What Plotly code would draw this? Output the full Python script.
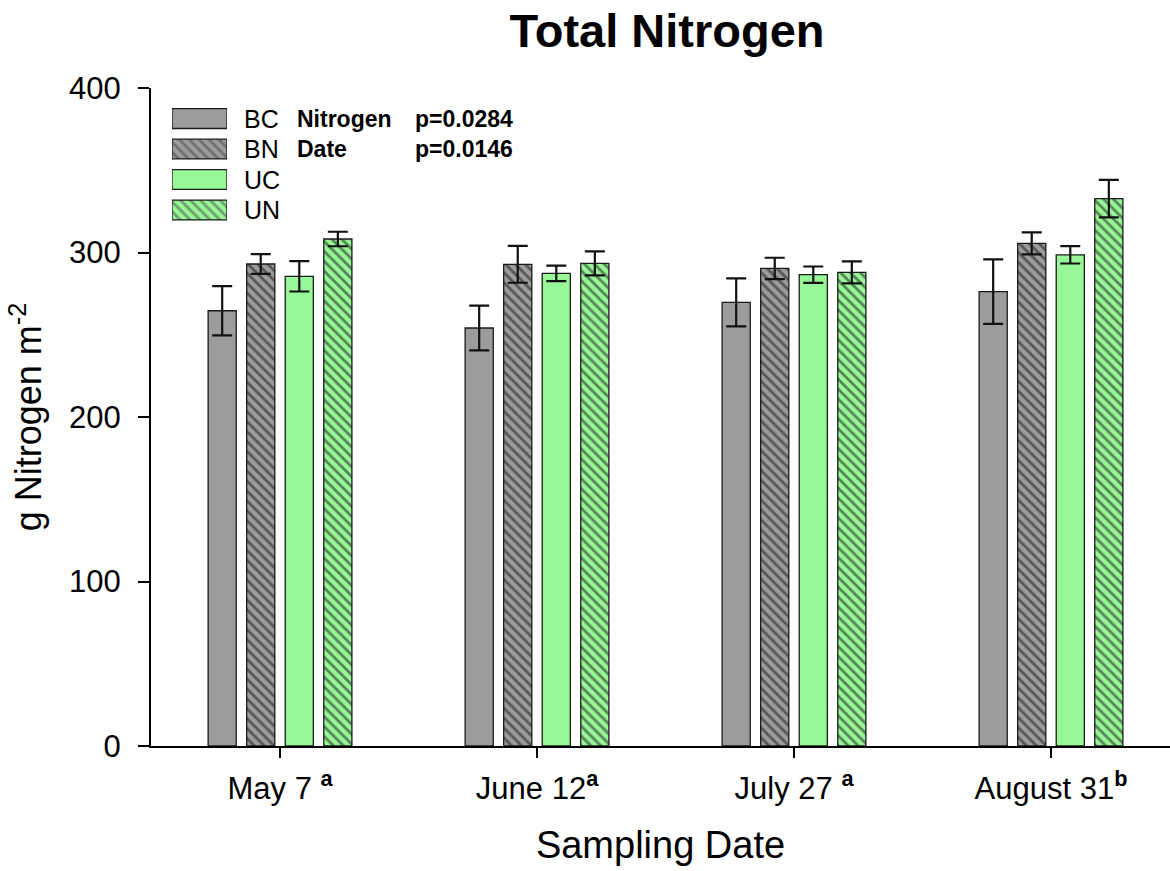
import plotly.graph_objects as go

# ---------------- data ----------------
dates = ["May 7", "June 12", "July 27", "August 31"]
date_letters = ["a", "a", "a", "b"]
series = ["BC", "BN", "UC", "UN"]

bc = [264.6, 254.1, 269.7, 276.2]
bc_err = [15.0, 13.6, 14.6, 19.6]
bn = [293.0, 292.8, 290.3, 305.5]
bn_err = [6.0, 11.2, 6.5, 6.7]
uc = [285.5, 287.3, 286.5, 298.6]
uc_err = [9.2, 4.7, 5.0, 5.3]
un = [308.2, 293.4, 287.9, 332.8]
un_err = [4.4, 7.3, 6.7, 11.4]

y_ticks = [0, 100, 200, 300, 400]
stats_labels = ["Nitrogen", "Date"]
stats_values = ["p=0.0284", "p=0.0146"]

# ---------------- styles ----------------
GRAY = "#9c9c9c"
GREEN = "#98F898"
FONT = "Arial, Liberation Sans, sans-serif"

styles = {
    "BC": dict(color=GRAY, shape=""),
    "BN": dict(color=GRAY, shape="\\"),
    "UC": dict(color=GREEN, shape=""),
    "UN": dict(color=GREEN, shape="\\"),
}
values = {"BC": (bc, bc_err), "BN": (bn, bn_err), "UC": (uc, uc_err), "UN": (un, un_err)}

fig = go.Figure()

for s in series:
    v, e = values[s]
    st = styles[s]
    fig.add_trace(go.Bar(
        x=dates, y=v, name=s,
        marker=dict(color=st["color"],
                    line=dict(color="#1a1a1a", width=1.3),
                    pattern=dict(shape=st["shape"], fgcolor="#111111",
                                 size=7, solidity=0.4)),
        error_y=dict(type="data", array=e, visible=True,
                     color="#111111", thickness=2.2, width=10),
        showlegend=False,
    ))

# custom legend swatches on a small overlay axis
fig.add_trace(go.Bar(
    orientation="h",
    y=series, x=[1, 1, 1, 1],
    width=0.65,
    marker=dict(color=[styles[s]["color"] for s in series],
                line=dict(color="#1a1a1a", width=1.3),
                pattern=dict(shape=[styles[s]["shape"] for s in series],
                             fgcolor="#111111", size=7, solidity=0.4)),
    xaxis="x2", yaxis="y2", showlegend=False, hoverinfo="skip",
))

annotations = []
for s in series:
    annotations.append(dict(
        x=1.27, xref="x2 domain", y=s, yref="y2",
        text=s, showarrow=False, xanchor="left", yanchor="middle",
        font=dict(family=FONT, size=25, color="black")))
for lab, val, row in zip(stats_labels, stats_values, series[:2]):
    annotations.append(dict(
        x=2.236, xref="x2 domain", y=row, yref="y2",
        text=f"<b>{lab}</b>", showarrow=False, xanchor="left", yanchor="middle",
        font=dict(family=FONT, size=23, color="black")))
    annotations.append(dict(
        x=4.382, xref="x2 domain", y=row, yref="y2",
        text=f"<b>{val}</b>", showarrow=False, xanchor="left", yanchor="middle",
        font=dict(family=FONT, size=23, color="black")))

ticktext = [f"{d}{' ' if l == 'a' and not d.startswith('June') else ''}<sup><b>{l}</b></sup>"
            for d, l in zip(dates, date_letters)]

fig.update_layout(
    width=1170, height=871,
    margin=dict(l=151, r=0, t=88, b=125),
    paper_bgcolor="white", plot_bgcolor="white",
    barmode="group", bargap=0.4, bargroupgap=0.27,
    font=dict(family=FONT, color="black"),
    title=dict(text="<b>Total Nitrogen</b>", x=667 / 1170, xanchor="center",
               y=1 - 31 / 871, yanchor="middle", yref="container",
               font=dict(family=FONT, size=47, color="black")),
    xaxis=dict(
        type="category", categoryorder="array", categoryarray=dates,
        range=[-0.502, 3.463],
        tickmode="array", tickvals=dates, ticktext=ticktext,
        ticks="outside", ticklen=10, tickwidth=1.5, tickcolor="black",
        showline=True, linecolor="black", linewidth=2,
        showgrid=False, zeroline=False, ticklabelstandoff=4,
        tickfont=dict(family=FONT, size=31, color="black"),
        title=dict(text="Sampling Date", standoff=26,
                   font=dict(family=FONT, size=38, color="black")),
    ),
    yaxis=dict(
        range=[0, 400], tickmode="array", tickvals=y_ticks,
        ticks="outside", ticklen=11, tickwidth=1.5, tickcolor="black",
        showline=True, linecolor="black", linewidth=2,
        showgrid=False, zeroline=False, ticklabelstandoff=11,
        tickfont=dict(family=FONT, size=31, color="black"),
        title=dict(text="g Nitrogen m<sup>-2</sup>", standoff=16,
                   font=dict(family=FONT, size=36, color="black")),
    ),
    xaxis2=dict(domain=[(172 - 151) / 1019, (227 - 151) / 1019], range=[0, 1],
                anchor="y2", visible=False, fixedrange=True),
    yaxis2=dict(domain=[(746 - 226) / 658, (746 - 102.6) / 658], anchor="x2",
                type="category", categoryorder="array", categoryarray=series,
                autorange="reversed", visible=False, fixedrange=True),
    annotations=annotations,
)

fig.write_html("out.html")
